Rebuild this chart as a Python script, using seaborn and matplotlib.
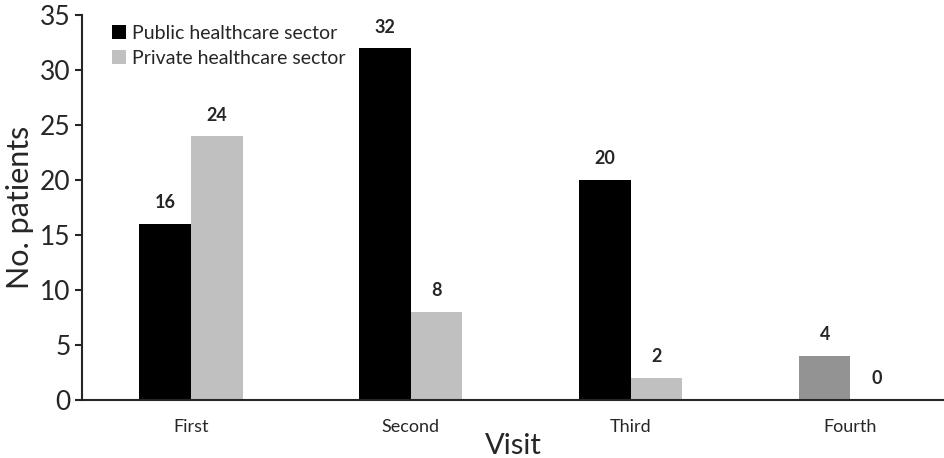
import pandas as pd
import matplotlib
matplotlib.use('Agg')
import matplotlib.pyplot as plt
import seaborn as sns

# data
visits = ['First', 'Second', 'Third', 'Fourth']
public = [16, 32, 20, 4]
private = [24, 8, 2, 0]
sectors = ['Public healthcare sector', 'Private healthcare sector']

df = pd.DataFrame({
    'Visit': visits * 2,
    'Patients': public + private,
    'Sector': [sectors[0]] * 4 + [sectors[1]] * 4,
})

sns.set_style('ticks')
plt.rcParams['font.family'] = ['Lato', 'DejaVu Sans']

fig = plt.figure(figsize=(9.45, 4.58), dpi=100)
ax = fig.add_axes([0.087, 0.127, 0.913, 0.84])

sns.barplot(data=df, x='Visit', y='Patients', hue='Sector', order=visits,
            hue_order=sectors, palette=['#000000', '#c0c0c0'],
            width=0.47, saturation=1, linewidth=0, ax=ax)

# fourth public bar is drawn in a mid grey in the original
ax.containers[0].patches[3].set_facecolor('#939393')

for cont in ax.containers:
    ax.bar_label(cont, padding=9, fontsize=13, fontweight='bold')

ax.set_xlim(-0.495, 3.43)
ax.set_ylim(0, 35)
ax.set_yticks(range(0, 36, 5))
ax.tick_params(axis='y', labelsize=19, width=1.5, length=5)
ax.tick_params(axis='x', labelsize=13, length=0, pad=14)
ax.set_xlabel('Visit', fontsize=21, labelpad=-2)
ax.set_ylabel('No. patients', fontsize=22, labelpad=4)
for s in ['top', 'right']:
    ax.spines[s].set_visible(False)
ax.spines['left'].set_linewidth(1.5)
ax.spines['bottom'].set_linewidth(1.5)

leg = ax.legend(loc='upper left', bbox_to_anchor=(0.025, 0.995), frameon=False,
                fontsize=14, handlelength=0.75, handleheight=0.75,
                handletextpad=0.3, labelspacing=0.4, borderaxespad=0)
for h in leg.legend_handles:
    h.set_linewidth(0)

fig.savefig('out.png', dpi=100)
